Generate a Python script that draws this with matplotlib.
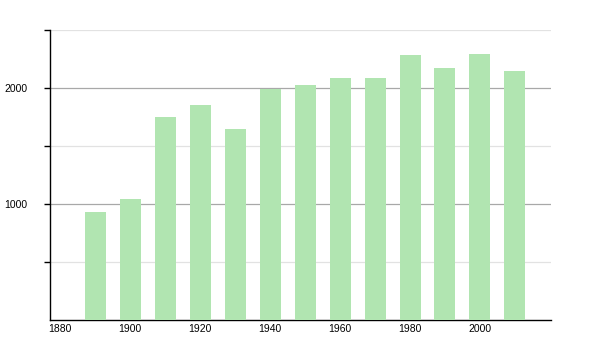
import matplotlib
matplotlib.use('Agg')
import matplotlib.pyplot as plt

# population by census year
years = [1890, 1900, 1910, 1920, 1930, 1940, 1950, 1960, 1970, 1980, 1990, 2000, 2010]
values = [931, 1043, 1753, 1856, 1646, 1994, 2028, 2089, 2089, 2281, 2175, 2290, 2149]
xticks = [1880, 1900, 1920, 1940, 1960, 1980, 2000]
yticks_major = [1000, 2000]
yticks_minor = [500, 1500, 2500]

plt.rcParams['font.family'] = ['Liberation Sans', 'DejaVu Sans']

fig = plt.figure(figsize=(6, 3.5), dpi=100)
ax = fig.add_axes([50/600, 30/350, 501/600, 290/350])

ax.bar(years, values, width=6, color='#b1e5b1', zorder=3)

ax.set_xlim(1877.1, 2020.3)
ax.set_ylim(0, 2500)

ax.set_yticks(yticks_major)
ax.set_yticks(yticks_minor, minor=True)
ax.set_xticks(xticks)
ax.set_xticklabels([str(x) for x in xticks])

for y in yticks_major:
    ax.axhline(y, color='#a8a8a8', linewidth=0.9, zorder=1)
for y in yticks_minor:
    ax.axhline(y, color='#e2e2e2', linewidth=0.9, zorder=1)

for s in ['top', 'right']:
    ax.spines[s].set_visible(False)
ax.spines['left'].set_linewidth(1.0)
ax.spines['bottom'].set_linewidth(1.0)

ax.tick_params(axis='y', which='both', length=4, width=1, labelsize=7.5, pad=12)
ax.tick_params(axis='y', which='minor', labelleft=False)
ax.tick_params(axis='x', length=0, labelsize=7.5, pad=3)

plt.savefig('out.png', dpi=100)
